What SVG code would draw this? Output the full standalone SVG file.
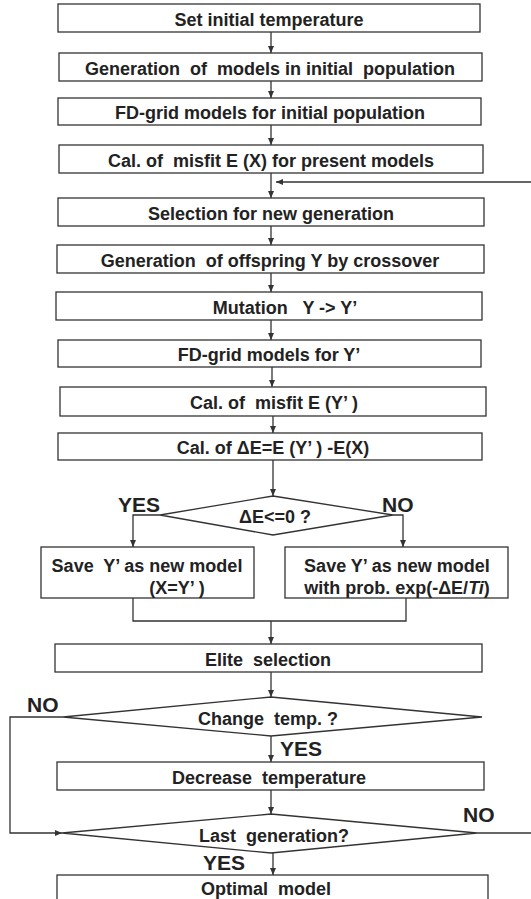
<svg xmlns="http://www.w3.org/2000/svg" width="531" height="899" viewBox="0 0 531 899">
<style>
.box{fill:#fff;stroke:#333;stroke-width:1.3}
.t{font-family:"Liberation Sans",Arial,sans-serif;font-weight:bold;font-size:18px;fill:#222;text-anchor:middle}
.lbl{font-family:"Liberation Sans",Arial,sans-serif;font-weight:bold;font-size:21px;fill:#222}
.c{fill:none;stroke:#333;stroke-width:1.3}
</style>
<defs>
<marker id="ah" markerUnits="userSpaceOnUse" markerWidth="8" markerHeight="6" refX="7" refY="3" orient="auto">
<path d="M0,0 L7,3 L0,6 z" fill="#333"/>
</marker>
</defs>
<rect width="531" height="899" fill="#fff"/>
<g id="connectors">
<line class="c" x1="271" y1="32" x2="271" y2="53" marker-end="url(#ah)"/>
<line class="c" x1="271" y1="81" x2="271" y2="98" marker-end="url(#ah)"/>
<line class="c" x1="271" y1="125" x2="271" y2="145" marker-end="url(#ah)"/>
<line class="c" x1="271" y1="173" x2="271" y2="198" marker-end="url(#ah)"/>
<line class="c" x1="531" y1="182" x2="276" y2="182" marker-end="url(#ah)"/>
<line class="c" x1="271" y1="226" x2="271" y2="245" marker-end="url(#ah)"/>
<line class="c" x1="271" y1="273" x2="271" y2="292" marker-end="url(#ah)"/>
<line class="c" x1="271" y1="320" x2="271" y2="340" marker-end="url(#ah)"/>
<line class="c" x1="272" y1="367" x2="272" y2="387" marker-end="url(#ah)"/>
<line class="c" x1="273" y1="416" x2="273" y2="433" marker-end="url(#ah)"/>
<line class="c" x1="273" y1="460" x2="273" y2="496" marker-end="url(#ah)"/>
<polyline class="c" points="160,515 133,515 133,547" marker-end="url(#ah)"/>
<polyline class="c" points="393,515 403,515 403,547" marker-end="url(#ah)"/>
<polyline class="c" points="133,598 133,621 406,621 406,598"/>
<line class="c" x1="271" y1="621" x2="271" y2="644" marker-end="url(#ah)"/>
<line class="c" x1="271" y1="672" x2="271" y2="697" marker-end="url(#ah)"/>
<line class="c" x1="271" y1="736" x2="271" y2="762" marker-end="url(#ah)"/>
<line class="c" x1="271" y1="790" x2="271" y2="814" marker-end="url(#ah)"/>
<line class="c" x1="273" y1="853" x2="273" y2="875" marker-end="url(#ah)"/>
<polyline class="c" points="63,717 10,717 10,833 62,833" marker-end="url(#ah)"/>
<line class="c" x1="477" y1="833" x2="531" y2="833"/>
</g>
<g id="n1"><rect class="box" x="58" y="4" width="422" height="28"/><text class="t" x="269" y="26">Set initial temperature</text></g>
<g id="n2"><rect class="box" x="59" y="53" width="423" height="28"/><text class="t" x="270" y="75" xml:space="preserve">Generation  of  models in initial  population</text></g>
<g id="n3"><rect class="box" x="58" y="98" width="423" height="27"/><text class="t" x="270" y="119">FD-grid models for initial population</text></g>
<g id="n4"><rect class="box" x="59" y="145" width="424" height="28"/><text class="t" x="271" y="167" xml:space="preserve">Cal. of  misfit E (X) for present models</text></g>
<g id="n5"><rect class="box" x="58" y="198" width="426" height="28"/><text class="t" x="271" y="220">Selection for new generation</text></g>
<g id="n6"><rect class="box" x="57" y="245" width="427" height="28"/><text class="t" x="270" y="267" xml:space="preserve">Generation  of offspring Y by crossover</text></g>
<g id="n7"><rect class="box" x="56" y="292" width="426" height="28"/><text class="t" x="285" y="314" xml:space="preserve">Mutation   Y -&gt; Y’</text></g>
<g id="n8"><rect class="box" x="58" y="340" width="423" height="27"/><text class="t" x="269" y="361">FD-grid models for Y’</text></g>
<g id="n9"><rect class="box" x="60" y="387" width="426" height="29"/><text class="t" x="274" y="409" xml:space="preserve">Cal. of  misfit E (Y’ )</text></g>
<g id="n10"><rect class="box" x="58" y="433" width="424" height="27"/><text class="t" x="273" y="454" xml:space="preserve">Cal. of ΔE=E (Y’ ) -E(X)</text></g>
<g id="d1"><polygon class="box" points="273,496 393,515 273,535 160,515"/><text class="t" x="275" y="523">ΔE&lt;=0 ?</text></g>
<text class="lbl" x="118" y="512">YES</text>
<text class="lbl" x="382" y="512">NO</text>
<g id="n11"><rect class="box" x="41" y="547" width="213" height="51"/><text class="t" x="147" y="572" xml:space="preserve">Save  Y’ as new model</text><text class="t" x="177" y="594" xml:space="preserve">(X=Y’ )</text></g>
<g id="n12"><rect class="box" x="285" y="547" width="223" height="51"/><text class="t" x="397" y="572">Save Y’ as new model</text><text class="t" x="397" y="594">with prob. exp(-ΔE/<tspan font-style="italic">Ti</tspan>)</text></g>
<g id="n13"><rect class="box" x="55" y="644" width="427" height="28"/><text class="t" x="268" y="666" xml:space="preserve">Elite  selection</text></g>
<g id="d2"><polygon class="box" points="271,697 482,717 271,736 63,717"/><text class="t" x="268" y="725" xml:space="preserve">Change  temp. ?</text></g>
<text class="lbl" x="27" y="712">NO</text>
<text class="lbl" x="280" y="756">YES</text>
<g id="n14"><rect class="box" x="57" y="762" width="427" height="28"/><text class="t" x="269" y="784" xml:space="preserve">Decrease  temperature</text></g>
<g id="d3"><polygon class="box" points="271,814 477,833 271,853 62,833"/><text class="t" x="274" y="842" xml:space="preserve">Last  generation?</text></g>
<text class="lbl" x="463" y="822">NO</text>
<text class="lbl" x="203" y="870">YES</text>
<g id="n15"><rect class="box" x="57" y="875" width="431" height="30"/><text class="t" x="266" y="895" xml:space="preserve">Optimal  model</text></g>
</svg>
